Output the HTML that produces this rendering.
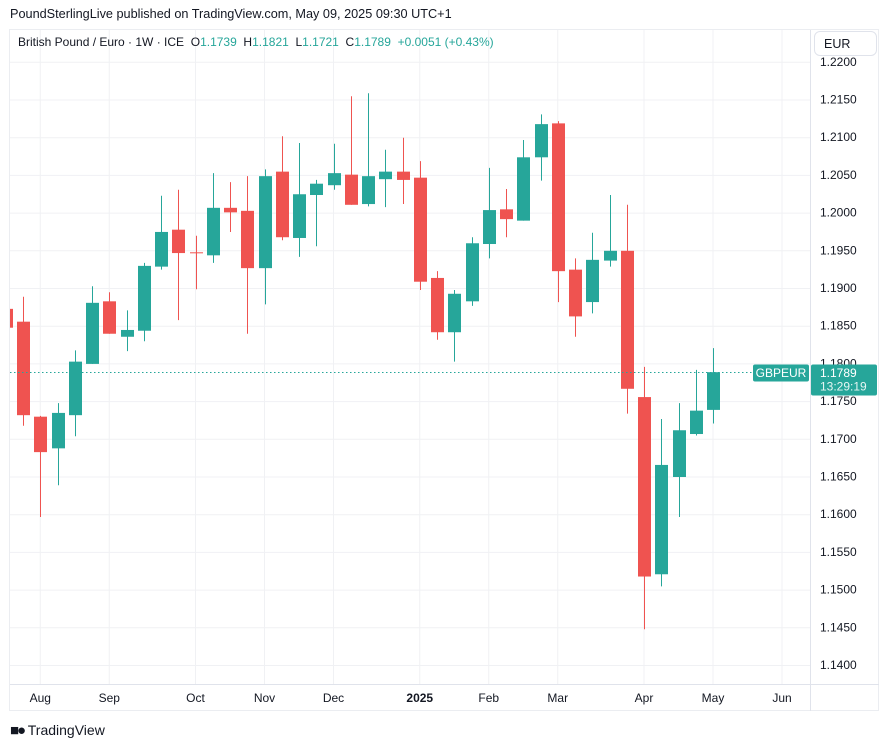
<!DOCTYPE html>
<html><head><meta charset="utf-8">
<style>
body{margin:0;background:#fff;font-family:"Liberation Sans",sans-serif;}
#wrap{position:relative;width:892px;height:747px;overflow:hidden;background:#fff;}
.hdr{position:absolute;left:10px;top:7px;font-size:12.7px;color:#131722;}
.frame{position:absolute;left:9px;top:29px;width:870px;height:682px;border:1px solid #ebedf1;box-sizing:border-box;}
.legend{position:absolute;left:18px;top:35px;font-size:12px;color:#131722;white-space:nowrap;}
.legend .v{color:#26a69a;}
.eur{position:absolute;left:814px;top:31px;width:63px;height:25px;border:1px solid #e0e3eb;border-radius:6px;box-sizing:border-box;font-size:12.5px;color:#131722;padding:5px 0 0 9px;background:#fff;}
.tv{position:absolute;left:10px;top:722px;font-size:14px;color:#131722;}
</style></head><body>
<div id="wrap">
<div class="hdr">PoundSterlingLive published on TradingView.com, May 09, 2025 09:30 UTC+1</div>
<div class="frame"></div>
<svg id="chart" width="892" height="747" style="position:absolute;left:0;top:0"></svg>
<div class="legend">British Pound / Euro · 1W · ICE &nbsp;O<span class="v">1.1739</span> &nbsp;H<span class="v">1.1821</span> &nbsp;L<span class="v">1.1721</span> &nbsp;C<span class="v">1.1789</span> &nbsp;<span class="v">+0.0051 (+0.43%)</span></div>
<div class="eur">EUR</div>
<div class="tv"><span style="font-weight:bold;font-size:15px;letter-spacing:-2px">&#9632;&#9679;</span> TradingView</div>
</div>
<script>
const opens=[1.1873,1.1856,1.1730,1.1688,1.1732,1.1800,1.1883,1.1836,1.1844,1.1929,1.1978,1.1948,1.1944,1.2007,1.2003,1.1927,1.2055,1.1967,1.2024,1.2037,1.2051,1.2012,1.2045,1.2055,1.2047,1.1914,1.1842,1.1883,1.1959,1.2005,1.1990,1.2074,1.2119,1.1925,1.1882,1.1937,1.1950,1.1756,1.1521,1.1650,1.1707,1.1739];
const highs=[1.1873,1.1889,1.1731,1.1748,1.1818,1.1903,1.1895,1.1871,1.1934,1.2023,1.2031,1.1970,1.2053,1.2041,1.2049,1.2058,1.2102,1.2093,1.2044,1.2092,1.2155,1.2159,1.2084,1.2100,1.2069,1.1923,1.1898,1.1968,1.2060,1.2032,1.2097,1.2131,1.2122,1.1940,1.1974,1.2024,1.2011,1.1796,1.1727,1.1748,1.1792,1.1821];
const lows=[1.1848,1.1718,1.1597,1.1639,1.1704,1.1800,1.1840,1.1817,1.1830,1.1925,1.1858,1.1899,1.1934,1.1975,1.1840,1.1879,1.1964,1.1942,1.1956,1.2031,1.2011,1.2009,1.2008,1.2012,1.1898,1.1832,1.1803,1.1877,1.1940,1.1968,1.1990,1.2043,1.1882,1.1836,1.1867,1.1929,1.1734,1.1448,1.1505,1.1597,1.1705,1.1721];
const closes=[1.1848,1.1732,1.1683,1.1735,1.1803,1.1881,1.1840,1.1845,1.1930,1.1975,1.1947,1.1947,1.2007,1.2001,1.1927,1.2049,1.1968,1.2025,1.2039,1.2053,1.2011,1.2049,1.2055,1.2044,1.1909,1.1842,1.1893,1.1960,1.2004,1.1992,1.2074,1.2118,1.1923,1.1863,1.1938,1.1950,1.1767,1.1518,1.1666,1.1712,1.1738,1.1789];
const priceTicks=[1.22,1.215,1.21,1.205,1.2,1.195,1.19,1.185,1.18,1.175,1.17,1.165,1.16,1.155,1.15,1.145,1.14];
const monthLabels=["Aug","Sep","Oct","Nov","Dec","2025","Feb","Mar","Apr","May","Jun"];
const monthIndex=[2,6,11,15,19,24,28,32,37,41,45];
const lastPrice=1.1789;

const NS="http://www.w3.org/2000/svg";
const svg=document.getElementById('chart');
const L=10,R=810,T=30,B=684;
function y(p){return 100+(1.215-p)*7540;}
function x(i){return 5.75+i*17.25;}
function el(tag,attrs,parent){const e=document.createElementNS(NS,tag);for(const k in attrs)e.setAttribute(k,attrs[k]);(parent||svg).appendChild(e);return e;}
const defs=el('defs',{});
const cp=el('clipPath',{id:'pane'},defs);
el('rect',{x:L,y:T,width:R-L,height:B-T},cp);
const grid=el('g',{});


priceTicks.forEach(p=>{el('line',{x1:L,x2:R,y1:y(p),y2:y(p),stroke:'#f0f1f4','stroke-width':1},grid);});
monthIndex.forEach(i=>{if(x(i)<R)el('line',{x1:x(i),x2:x(i),y1:T,y2:B,stroke:'#f0f1f4','stroke-width':1},grid);});
el('line',{x1:R+0.5,x2:R+0.5,y1:T,y2:711,stroke:'#e0e3eb'});
el('line',{x1:L,x2:879,y1:B+0.5,y2:B+0.5,stroke:'#e0e3eb'});
priceTicks.forEach(p=>{const t=el('text',{x:820,y:y(p)+3.5,'font-size':12,fill:'#131722','font-family':'Liberation Sans, sans-serif'});t.textContent=p.toFixed(4);

});
monthLabels.forEach((m,k)=>{const t=el('text',{x:x(monthIndex[k]),y:702,'font-size':12,fill:'#131722','text-anchor':'middle','font-weight':m==='2025'?'bold':'normal','font-family':'Liberation Sans, sans-serif'});t.textContent=m;

});
const cg=el('g',{'clip-path':'url(#pane)'});


for(let i=0;i<opens.length;i++){
  const up=closes[i]>=opens[i];const c=up?'#26a69a':'#ef5350';
  const cx=Math.round(x(i))+0.5;
  const w=el('line',{x1:cx,x2:cx,y1:y(highs[i]),y2:y(lows[i]),stroke:c,'stroke-width':1},cg);
  
  
  const top=y(Math.max(opens[i],closes[i])),bot=y(Math.min(opens[i],closes[i]));
  const b=el('rect',{x:cx-6.5,y:top,width:13,height:Math.max(1,bot-top),fill:c},cg);
  
  
}
const ly=Math.round(y(lastPrice))+0.5;
const pl=el('line',{x1:L,x2:R,y1:ly,y2:ly,stroke:'#26a69a','stroke-dasharray':'1.5 2.5','stroke-width':1});


const sl=el('rect',{x:753,y:ly-8,width:56,height:17,rx:2,fill:'#26a69a'});


const st=el('text',{x:781,y:ly+4.5,'font-size':12,fill:'#fff','text-anchor':'middle','font-family':'Liberation Sans, sans-serif'});st.textContent='GBPEUR';
const pb=el('rect',{x:811,y:ly-8,width:66,height:31,rx:2,fill:'#26a69a'});


const pt=el('text',{x:820,y:ly+4.5,'font-size':12,fill:'#fff','font-family':'Liberation Sans, sans-serif'});pt.textContent=lastPrice.toFixed(4);
const ct=el('text',{x:820,y:ly+18,'font-size':12,fill:'#e6f5f3','font-family':'Liberation Sans, sans-serif'});ct.textContent='13:29:19';
</script>
</body></html>
